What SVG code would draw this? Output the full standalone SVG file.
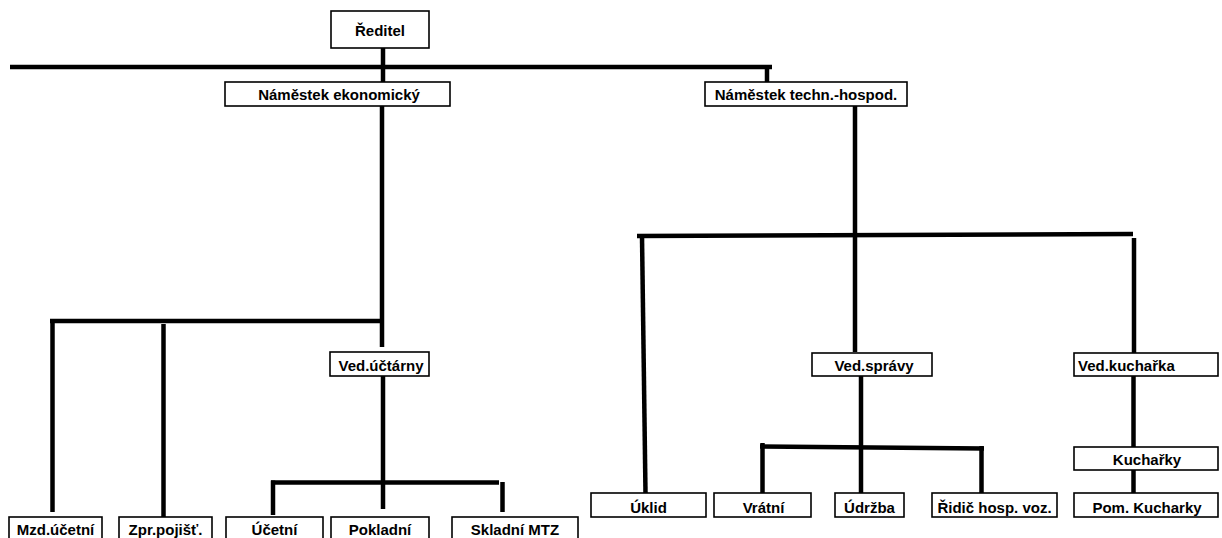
<svg xmlns="http://www.w3.org/2000/svg" width="1222" height="538" viewBox="0 0 1222 538">
<style>
.box{fill:#fff;stroke:#000;stroke-width:1.6}
.t{font-family:"Liberation Sans",Arial,sans-serif;font-weight:bold;font-size:15px;fill:#000;text-anchor:middle}
.l{text-anchor:start}
.c line{stroke:#000;stroke-width:4.5;stroke-linecap:butt}
</style>
<rect width="1222" height="538" fill="#fff"/>
<g id="connectors" class="c">
<line x1="383" y1="48" x2="383" y2="82"/>
<line x1="10" y1="67" x2="772" y2="67"/>
<line x1="767" y1="65" x2="767" y2="82"/>
<line x1="382" y1="106" x2="382" y2="347"/>
<line x1="50" y1="321" x2="384" y2="321"/>
<line x1="52.5" y1="319" x2="52.5" y2="512"/>
<line x1="163.5" y1="324" x2="163.5" y2="518"/>
<line x1="383" y1="376" x2="383" y2="509"/>
<line x1="271" y1="482.5" x2="499" y2="482.5"/>
<line x1="273" y1="480.5" x2="273" y2="515"/>
<line x1="502.5" y1="482" x2="502.5" y2="512"/>
<line x1="855" y1="106" x2="855" y2="352"/>
<line x1="637" y1="236" x2="1133" y2="234"/>
<line x1="642" y1="236" x2="645.5" y2="493"/>
<line x1="1134" y1="238" x2="1134" y2="353"/>
<line x1="861" y1="376" x2="861" y2="493"/>
<line x1="760" y1="446.5" x2="984" y2="448.5"/>
<line x1="762.5" y1="443" x2="762.5" y2="493"/>
<line x1="981.5" y1="446" x2="981.5" y2="493"/>
<line x1="1133.5" y1="376" x2="1133.5" y2="447"/>
<line x1="1133.5" y1="470" x2="1133.5" y2="493"/>
</g>
<g id="reditel"><rect class="box" x="331" y="11" width="98" height="37"/><text class="t" x="380" y="36">Ředitel</text></g>
<g id="nam-ekon"><rect class="box" x="225" y="82" width="225" height="24"/><text class="t" x="339" y="100">Náměstek ekonomický</text></g>
<g id="nam-tech"><rect class="box" x="705" y="82" width="202" height="24"/><text class="t" x="806" y="100">Náměstek techn.-hospod.</text></g>
<g id="ved-uctarny"><rect class="box" x="330" y="352" width="99" height="24"/><text class="t" x="381" y="371">Ved.účtárny</text></g>
<g id="ved-spravy"><rect class="box" x="812" y="353" width="120" height="23"/><text class="t" x="874" y="371">Ved.správy</text></g>
<g id="ved-kucharka"><rect class="box" x="1074" y="353" width="144" height="23"/><text class="t l" x="1078" y="371">Ved.kuchařka</text></g>
<g id="kucharky"><rect class="box" x="1074" y="447" width="144" height="23"/><text class="t" x="1147" y="465">Kuchařky</text></g>
<g id="uklid"><rect class="box" x="591" y="493" width="115" height="24"/><text class="t" x="648.5" y="512.5">Úklid</text></g>
<g id="vratni"><rect class="box" x="714" y="493" width="97" height="24"/><text class="t" x="763.5" y="512.5">Vrátní</text></g>
<g id="udrzba"><rect class="box" x="835" y="493" width="69" height="24"/><text class="t" x="869.5" y="512.5">Údržba</text></g>
<g id="ridic"><rect class="box" x="932" y="493" width="125" height="24"/><text class="t" x="994.5" y="512.5">Řidič hosp. voz.</text></g>
<g id="pom-kucharky"><rect class="box" x="1074" y="493" width="144" height="24"/><text class="t" x="1147" y="512.5">Pom. Kucharky</text></g>
<g id="mzd-ucetni"><rect class="box" x="9" y="517" width="93" height="26"/><text class="t" x="55.5" y="535">Mzd.účetní</text></g>
<g id="zpr-pojist"><rect class="box" x="119" y="517" width="93" height="26"/><text class="t" x="165.5" y="535">Zpr.pojišť.</text></g>
<g id="ucetni"><rect class="box" x="226" y="517" width="97" height="26"/><text class="t" x="274.5" y="535">Účetní</text></g>
<g id="pokladni"><rect class="box" x="331" y="517" width="98" height="26"/><text class="t" x="380" y="535">Pokladní</text></g>
<g id="skladni"><rect class="box" x="452" y="517" width="126" height="26"/><text class="t" x="515" y="535">Skladní MTZ</text></g>
</svg>
